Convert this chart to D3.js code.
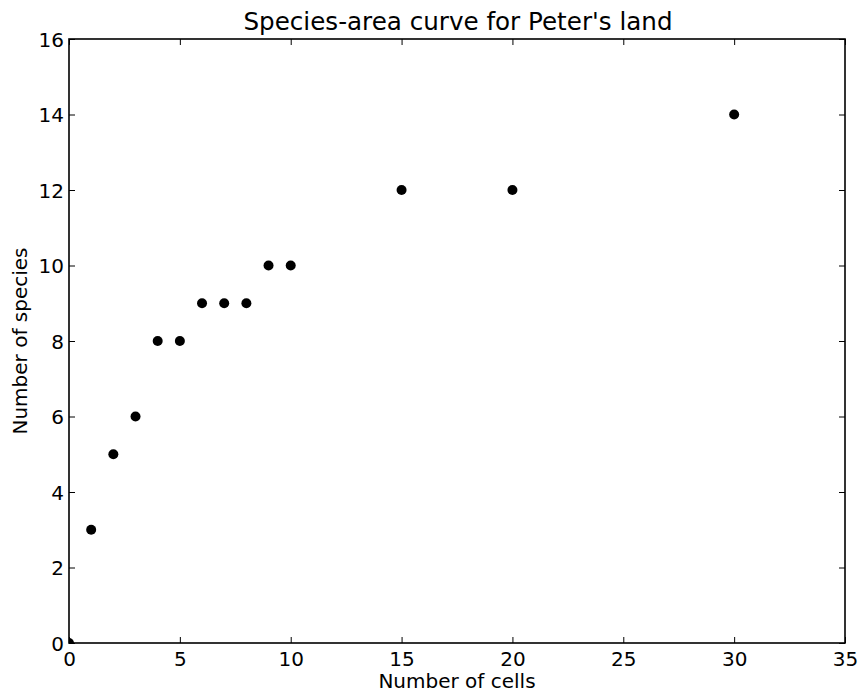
<!DOCTYPE html>
<html>
<head>
<meta charset="utf-8">
<script src="https://cdn.jsdelivr.net/npm/d3@7"></script>
<style>
  html, body { margin: 0; padding: 0; background: #fff; }
  svg { display: block; }
  text { font-family: "DejaVu Sans", sans-serif; fill: #000; }
</style>
</head>
<body>
<svg id="chart" width="861" height="693"></svg>
<script>
const cells   = [0, 1, 2, 3, 4, 5, 6, 7, 8, 9, 10, 15, 20, 30];
const species = [0, 3, 5, 6, 8, 8, 9, 9, 9, 10, 10, 12, 12, 14];
const xTicks = [0, 5, 10, 15, 20, 25, 30, 35];
const yTicks = [0, 2, 4, 6, 8, 10, 12, 14, 16];
const titleText = "Species-area curve for Peter's land";
const xLabel = "Number of cells";
const yLabel = "Number of species";

const svg = d3.select("#chart");
const m = { left: 69, right: 845, top: 39, bottom: 643 };
const x = d3.scaleLinear().domain([0, 35]).range([m.left, m.right]);
const y = d3.scaleLinear().domain([0, 16]).range([m.bottom, m.top]);
const tickLen = 6;

// clip
svg.append("clipPath").attr("id", "clip")
  .append("rect").attr("x", m.left).attr("y", m.top)
  .attr("width", m.right - m.left).attr("height", m.bottom - m.top);

// points
svg.append("g").attr("clip-path", "url(#clip)")
  .selectAll("circle").data(cells.map((c, i) => [c, species[i]]))
  .join("circle")
  .attr("cx", d => x(d[0])).attr("cy", d => y(d[1]))
  .attr("r", 5).attr("fill", "#000");

// axes (ticks inward on all four sides)
const fmt = d3.format("d");
const gB = svg.append("g").attr("transform", `translate(0,${m.bottom})`)
  .call(d3.axisBottom(x).tickValues(xTicks).tickFormat(fmt).tickSizeInner(-tickLen).tickSizeOuter(0).tickPadding(10));
const gT = svg.append("g").attr("transform", `translate(0,${m.top})`)
  .call(d3.axisTop(x).tickValues(xTicks).tickFormat("").tickSizeInner(-tickLen).tickSizeOuter(0));
const gL = svg.append("g").attr("transform", `translate(${m.left},0)`)
  .call(d3.axisLeft(y).tickValues(yTicks).tickFormat(fmt).tickSizeInner(-tickLen).tickSizeOuter(0).tickPadding(5));
const gR = svg.append("g").attr("transform", `translate(${m.right},0)`)
  .call(d3.axisRight(y).tickValues(yTicks).tickFormat("").tickSizeInner(-tickLen).tickSizeOuter(0));

[gB, gT, gL, gR].forEach(g => {
  g.select(".domain").remove();
  g.selectAll(".tick line").attr("stroke", "#000").attr("stroke-width", 1);
  g.selectAll(".tick text").attr("font-family", "DejaVu Sans").attr("font-size", 20).attr("fill", "#000");
});
gB.selectAll(".tick text").attr("dy", null).attr("y", 0).attr("dominant-baseline", "auto")
  .attr("transform", "translate(0,23)");
gL.selectAll(".tick text").attr("dy", "0.36em");

// frame
svg.append("rect").attr("x", m.left).attr("y", m.top)
  .attr("width", m.right - m.left).attr("height", m.bottom - m.top)
  .attr("fill", "none").attr("stroke", "#000").attr("stroke-width", 1.6);

// title & labels
svg.append("text").attr("x", (m.left + m.right) / 2 + 1).attr("y", 30)
  .attr("text-anchor", "middle").attr("font-size", 24.6).text(titleText);
svg.append("text").attr("x", (m.left + m.right) / 2).attr("y", 688)
  .attr("text-anchor", "middle").attr("font-size", 20).text(xLabel);
svg.append("text").attr("transform", `translate(27,${(m.top + m.bottom) / 2}) rotate(-90)`)
  .attr("text-anchor", "middle").attr("font-size", 20).text(yLabel);
</script>
</body>
</html>
